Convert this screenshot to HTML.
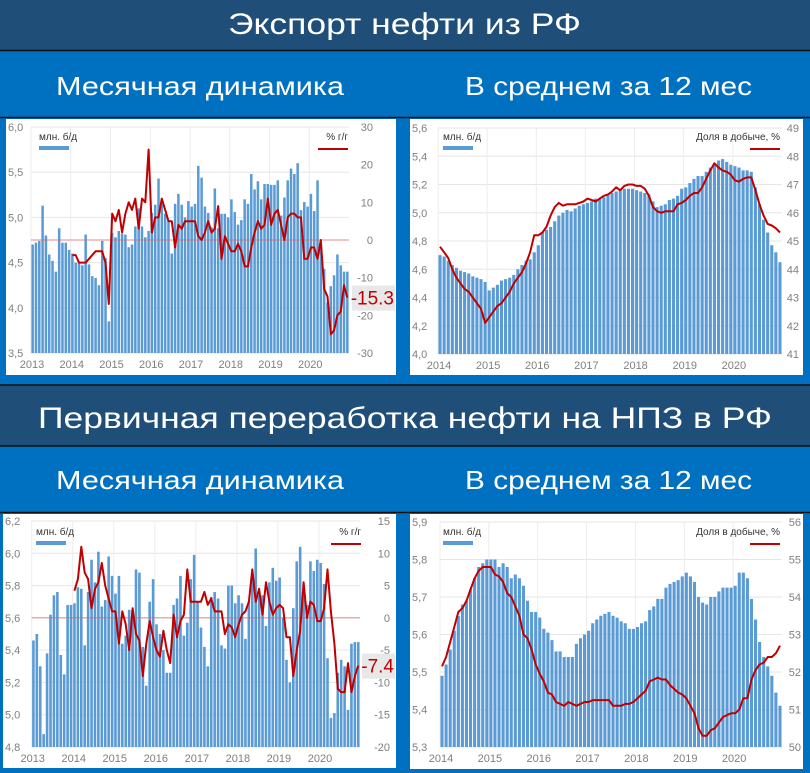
<!DOCTYPE html>
<html><head><meta charset="utf-8">
<style>
html,body{margin:0;padding:0;background:#0070c0;}
svg{display:block;font-family:"Liberation Sans","Noto Sans CJK SC",sans-serif;}
</style></head>
<body>
<svg id="root" width="810" height="773" viewBox="0 0 810 773" xmlns="http://www.w3.org/2000/svg">
<rect x="0" y="0" width="810" height="773" fill="#0070c0"/>
<rect x="0" y="0" width="810" height="50" fill="#1f4e79"/>
<line x1="0" y1="50.5" x2="810" y2="50.5" stroke="#111" stroke-width="1.5"/>
<text x="228" y="34" font-size="30" fill="#fff" textLength="353" lengthAdjust="spacingAndGlyphs">Экспорт нефти из РФ</text>
<text x="56" y="95" font-size="26" fill="#fff" textLength="288" lengthAdjust="spacingAndGlyphs">Месячная динамика</text>
<text x="465" y="95" font-size="26" fill="#fff" textLength="287" lengthAdjust="spacingAndGlyphs">В среднем за 12 мес</text>
<line x1="0" y1="117.5" x2="810" y2="117.5" stroke="#111" stroke-width="1.5"/>
<rect x="0" y="385" width="810" height="61" fill="#1f4e79"/>
<line x1="0" y1="385" x2="810" y2="385" stroke="#111" stroke-width="1.5"/>
<line x1="0" y1="446" x2="810" y2="446" stroke="#111" stroke-width="1.5"/>
<text x="38" y="428" font-size="30" fill="#fff" textLength="734" lengthAdjust="spacingAndGlyphs">Первичная переработка нефти на НПЗ в РФ</text>
<text x="56" y="489" font-size="26" fill="#fff" textLength="288" lengthAdjust="spacingAndGlyphs">Месячная динамика</text>
<text x="465" y="489" font-size="26" fill="#fff" textLength="287" lengthAdjust="spacingAndGlyphs">В среднем за 12 мес</text>
<line x1="0" y1="512.5" x2="810" y2="512.5" stroke="#111" stroke-width="1.5"/>
</svg>
<script>
// ---- Chart 1: export monthly (Jan 2013 - Dec 2020) ----
const exportMonthlyYears = ["2013","2014","2015","2016","2017","2018","2019","2020"];
const exportMonthlyBars = [
4.70,4.72,4.74,5.13,4.80,4.59,4.52,4.40,4.88,4.72,4.72,4.64,
4.60,4.50,4.51,4.47,4.81,4.48,4.35,4.33,4.25,4.74,4.55,3.85,
4.83,4.78,4.85,4.82,4.81,4.67,4.70,4.90,5.10,4.90,4.78,4.85,
5.05,5.14,5.43,5.15,5.04,4.96,4.60,5.15,5.26,5.14,5.00,5.18,
5.12,5.15,5.57,5.44,5.12,5.05,4.89,5.32,4.88,5.04,5.04,5.00,
5.20,5.06,4.92,4.97,5.20,5.15,5.48,5.31,5.40,5.20,5.37,5.37,
5.36,5.36,5.41,5.02,5.22,5.41,5.54,5.48,5.60,5.08,5.17,5.12,
5.26,5.07,5.41,4.72,4.43,4.06,4.24,4.36,4.59,4.47,4.40,4.40];
const exportMonthlyYoY = [
-4,-4,-6,-6,-6,-5,-4,-3,-3,-3,-6,-17,
7,5,8,2,7,10,8,11,3,11,10,24,
2,6,6,11,8,5,5,-2,4,3,5,5,
5,5,1,0,2,5,2,3,9,-5,1,-1,
-3,-3,-1,-3,-7,-7,-2,2,5,3,4,11,
4,7,8,4,0,6,7,7,6,6,-5,-5,
-2,-2,-5,0,-13,-15,-25,-24,-20,-19,-12,-15.3];
const exportMonthlyLeftTicks = [3.5,4.0,4.5,5.0,5.5,6.0];
const exportMonthlyRightTicks = [-30,-20,-10,0,10,20,30];
const exportMonthlyLastLabel = "-15.3";

// ---- Chart 2: export 12m average (Jan 2014 - Dec 2020) ----
const exportAvgYears = ["2014","2015","2016","2017","2018","2019","2020"];
const exportAvgBars = [
4.70,4.69,4.66,4.63,4.61,4.59,4.58,4.57,4.55,4.54,4.53,4.51,
4.45,4.47,4.49,4.52,4.53,4.54,4.56,4.60,4.63,4.66,4.67,4.72,
4.77,4.86,4.88,4.90,4.94,4.98,5.00,5.02,5.01,5.03,5.05,5.06,
5.07,5.08,5.10,5.10,5.11,5.13,5.14,5.15,5.16,5.17,5.17,5.17,
5.16,5.15,5.14,5.13,5.08,5.04,5.05,5.06,5.09,5.10,5.12,5.17,
5.18,5.21,5.24,5.26,5.26,5.29,5.32,5.35,5.37,5.38,5.36,5.34,
5.33,5.32,5.30,5.30,5.29,5.18,5.06,4.95,4.86,4.77,4.72,4.65];
const exportAvgShare = [
44.8,44.6,44.4,44.0,43.7,43.5,43.3,43.2,43.0,42.8,42.6,42.1,
42.3,42.5,42.7,42.8,43.0,43.2,43.5,43.7,43.9,44.2,44.6,45.2,
45.2,45.3,45.5,45.9,46.2,46.35,46.25,46.3,46.3,46.3,46.35,46.4,
46.5,46.45,46.4,46.5,46.6,46.65,46.75,46.9,46.8,46.95,47.0,47.0,
46.95,46.95,46.85,46.6,46.2,46.05,46.0,46.05,46.05,46.05,46.3,46.35,
46.45,46.6,46.7,46.7,46.9,47.2,47.5,47.75,47.6,47.5,47.45,47.35,
47.15,47.1,47.2,47.25,47.25,46.8,46.3,45.9,45.6,45.55,45.45,45.3];
const exportAvgLeftTicks = [4.0,4.2,4.4,4.6,4.8,5.0,5.2,5.4,5.6];
const exportAvgRightTicks = [41,42,43,44,45,46,47,48,49];

// ---- Chart 3: refining monthly (Jan 2013 - Dec 2020) ----
const refMonthlyYears = ["2013","2014","2015","2016","2017","2018","2019","2020"];
const refMonthlyBars = [
5.46,5.50,5.30,4.88,5.38,5.62,5.74,5.76,5.37,5.25,5.68,5.68,
5.69,5.79,5.78,5.43,5.76,5.96,5.82,6.01,5.67,5.71,5.98,5.86,
5.75,5.86,5.44,5.49,5.65,5.65,5.90,5.88,5.42,5.18,5.70,5.84,
5.56,5.50,5.40,5.26,5.26,5.68,5.72,5.86,5.49,5.57,5.84,5.99,
5.70,5.54,5.42,5.30,5.73,5.76,5.72,5.43,5.41,5.80,5.80,5.69,
5.74,5.69,5.47,5.70,5.86,6.03,5.74,5.74,5.55,5.82,5.91,5.83,
5.85,5.60,5.34,5.20,5.66,5.95,6.04,5.74,5.68,5.95,5.89,5.96,
5.94,5.81,5.35,4.98,5.01,5.26,5.34,5.30,5.03,5.44,5.45,5.45];
const refMonthlyYoY = [
4.2,6,11,7,6,1.5,4.5,5.5,8.5,5,3,1,
1,-4,1,-1,-5,1.5,-2.5,-3.5,-9,-4,-0.5,-3,
-5,-6,-2,-5,-7,0.5,-3,-0.5,0.5,7.5,2.5,2.5,
2.5,2.5,4,2,3,1,1,1,-2.5,-1,-1.5,-3,
-1,0.5,1,2.5,7.5,2.5,4.5,0.5,5.5,2.5,0.5,1.5,
2,1.5,-3,-3,-9,-5,-2,5.5,0,2.5,2,-0.5,
-0.5,1.5,7.5,1,-4,-11,-11.5,-11.5,-7,-11.5,-9,-7.4];
const refMonthlyLeftTicks = [4.8,5.0,5.2,5.4,5.6,5.8,6.0,6.2];
const refMonthlyRightTicks = [-20,-15,-10,-5,0,5,10,15];
const refMonthlyLastLabel = "-7.4";

// ---- Chart 4: refining 12m average (Jan 2014 - Dec 2020) ----
const refAvgYears = ["2014","2015","2016","2017","2018","2019","2020"];
const refAvgBars = [
5.49,5.52,5.56,5.61,5.65,5.68,5.69,5.72,5.75,5.78,5.79,5.80,
5.80,5.80,5.78,5.79,5.78,5.75,5.76,5.75,5.73,5.69,5.66,5.66,
5.645,5.615,5.605,5.585,5.555,5.555,5.54,5.54,5.54,5.575,5.59,5.60,
5.61,5.63,5.64,5.65,5.655,5.66,5.65,5.645,5.635,5.63,5.615,5.615,
5.62,5.63,5.635,5.665,5.675,5.695,5.695,5.725,5.735,5.74,5.745,5.755,
5.765,5.755,5.74,5.70,5.685,5.68,5.70,5.70,5.715,5.725,5.725,5.725,
5.73,5.765,5.765,5.75,5.695,5.64,5.58,5.54,5.515,5.49,5.445,5.41];
const refAvgShare = [
52.15,52.4,52.8,53.2,53.6,53.7,53.9,54.2,54.5,54.7,54.8,54.8,
54.8,54.6,54.55,54.4,54.1,54.0,53.75,53.5,53.0,52.9,52.6,52.2,
51.95,51.75,51.45,51.4,51.2,51.15,51.1,51.2,51.15,51.1,51.15,51.2,
51.2,51.25,51.25,51.25,51.25,51.25,51.1,51.1,51.1,51.15,51.15,51.2,
51.3,51.4,51.5,51.75,51.8,51.85,51.8,51.8,51.65,51.55,51.45,51.4,
51.3,51.1,50.9,50.5,50.3,50.3,50.45,50.5,50.65,50.8,50.85,50.9,
50.9,51.0,51.3,51.3,51.8,52.05,52.2,52.25,52.4,52.4,52.5,52.7];
const refAvgLeftTicks = [5.3,5.4,5.5,5.6,5.7,5.8,5.9];
const refAvgRightTicks = [50,51,52,53,54,55,56];

const NS = "http://www.w3.org/2000/svg";
const root = document.getElementById('root');
function mk(tag, attrs, parent) {
  const e = document.createElementNS(NS, tag);
  for (const k in attrs) e.setAttribute(k, attrs[k]);
  (parent || root).appendChild(e);
  return e;
}

function drawChart(o) {
  const g = mk('g', {});
  
  
  const panel = mk('rect', {x:o.px, y:o.py, width:o.pw, height:o.ph, fill:'#fff'}, g);
  
  
  const n = o.bars.length;
  const step = (o.x1 - o.x0) / n;
  const xAt = i => o.x0 + i * step;
  const yL = v => o.yb - (v - o.lmin) / (o.lmax - o.lmin) * (o.yb - o.yt);
  const yR = v => o.yb - (v - o.rmin) / (o.rmax - o.rmin) * (o.yb - o.yt);
  o.lticks.forEach(t => {
    const y = yL(t);
    mk('line', {x1:o.x0, x2:o.x1, y1:y, y2:y, stroke:'#e6e6e6', 'stroke-width':1}, g);
    const tx = mk('text', {x:o.px + 2, y:y + 4, 'font-size':11, fill:'#7f7f7f'}, g);
    tx.textContent = t.toFixed(1).replace('.', ',');
    
    
  });
  o.rticks.forEach(t => {
    const y = yR(t);
    const tx = mk('text', {x:o.rx, y:y + 4, 'font-size':11, fill:'#7f7f7f', 'text-anchor':'end'}, g);
    tx.textContent = String(t);
    
    
  });
  o.years.forEach((yr, k) => {
    const x = xAt(k * 12);
    mk('line', {x1:x, x2:x, y1:o.yt, y2:o.yb, stroke:'#ececec', 'stroke-width':1}, g);
    const tx = mk('text', {x:x + 1, y:o.yb + 15, 'font-size':11, fill:'#7f7f7f', 'text-anchor':'middle'}, g);
    tx.textContent = yr;
    
    
  });
  o.bars.forEach((v, i) => {
    const y = yL(v);
    const b = mk('rect', {x:xAt(i) + step * 0.12, y:y, width:step * 0.76, height:Math.max(0, o.yb - y), fill:'#5b9bd5'}, g);
    
    
  });
  if (o.zeroLine) {
    const y = yR(0);
    mk('line', {x1:o.x0, x2:o.x1, y1:y, y2:y, stroke:'#e06060', 'stroke-width':0.8}, g);
  }
  const off = o.lineOffset;
  const pts = o.line.map((v, i) => (xAt(i + off) + step / 2).toFixed(1) + ',' + yR(v).toFixed(1)).join(' ');
  const pl = mk('polyline', {points:pts, fill:'none', stroke:'#c00000', 'stroke-width':2, 'stroke-linejoin':'round'}, g);
  
  
  const l1 = mk('text', {x:o.px + 33, y:o.py + 21, 'font-size':10, fill:'#333'}, g);
  l1.textContent = 'млн. б/д';
  
  
  mk('rect', {x:o.px + 33, y:o.py + 27, width:30, height:4, fill:'#5b9bd5'}, g);
  const l2 = mk('text', {x:o.legRx, y:o.py + 21, 'font-size':10, fill:'#333', 'text-anchor':'end'}, g);
  l2.textContent = o.legR;
  
  
  mk('line', {x1:o.legRx - 30, x2:o.legRx, y1:o.py + 30, y2:o.py + 30, stroke:'#c00000', 'stroke-width':2}, g);
  if (o.lastLabel) {
    const yv = yR(o.line[o.line.length - 1]);
    mk('rect', {x:o.boxX, y:yv - 12, width:o.boxW, height:25, fill:'#e8e8e8'}, g);
    const t = mk('text', {x:o.boxX + o.boxW - 1, y:yv + 7, 'font-size':19, fill:'#c00000', 'text-anchor':'end'}, g);
    t.textContent = o.lastLabel;
    
    
  }
}

drawChart({name:'export-monthly-chart', px:6, py:119, pw:390, ph:256, x0:31, x1:349, yt:127, yb:353,
  lmin:3.5, lmax:6.0, rmin:-30, rmax:30, lticks:exportMonthlyLeftTicks, rticks:exportMonthlyRightTicks,
  rx:373, years:exportMonthlyYears, bars:exportMonthlyBars, line:exportMonthlyYoY, lineOffset:12,
  zeroLine:true, legR:'% г/г', legRx:348, lastLabel:exportMonthlyLastLabel, boxX:352, boxW:43});

drawChart({name:'export-average-chart', px:410, py:119, pw:393, ph:256, x0:438, x1:782, yt:128, yb:354,
  lmin:4.0, lmax:5.6, rmin:41, rmax:49, lticks:exportAvgLeftTicks, rticks:exportAvgRightTicks,
  rx:799, years:exportAvgYears, bars:exportAvgBars, line:exportAvgShare, lineOffset:0,
  zeroLine:false, legR:'Доля в добыче, %', legRx:780, lastLabel:null});

drawChart({name:'refining-monthly-chart', px:3, py:514, pw:393, ph:254, x0:31.7, x1:360, yt:521, yb:747,
  lmin:4.8, lmax:6.2, rmin:-20, rmax:15, lticks:refMonthlyLeftTicks, rticks:refMonthlyRightTicks,
  rx:390, years:refMonthlyYears, bars:refMonthlyBars, line:refMonthlyYoY, lineOffset:12,
  zeroLine:true, legR:'% г/г', legRx:361, lastLabel:refMonthlyLastLabel, boxX:362, boxW:33});

drawChart({name:'refining-average-chart', px:410, py:514, pw:393, ph:255, x0:440, x1:782, yt:522, yb:747,
  lmin:5.3, lmax:5.9, rmin:50, rmax:56, lticks:refAvgLeftTicks, rticks:refAvgRightTicks,
  rx:801, years:refAvgYears, bars:refAvgBars, line:refAvgShare, lineOffset:0,
  zeroLine:false, legR:'Доля в добыче, %', legRx:780, lastLabel:null});
</script>
</body></html>
